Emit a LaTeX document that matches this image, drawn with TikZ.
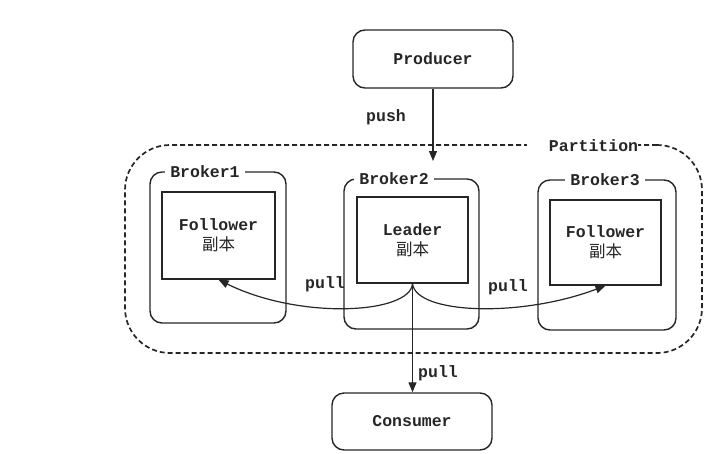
\documentclass[tikz,border=0pt]{standalone}
\usepackage{fontspec}
\setmonofont{Liberation Mono}
\newfontfamily\cjk{Noto Sans CJK SC}
\usetikzlibrary{arrows.meta}
\begin{document}
\begin{tikzpicture}[x=1pt,y=-1pt,
  every node/.style={font=\fontsize{16.5}{20}\selectfont\ttfamily\bfseries, text=black!85},
  rbox/.style={draw=black!85, line width=1.4pt, rounded corners=12pt, inner sep=0pt},
  sqbox/.style={draw=black!85, line width=1.4pt, inner sep=0pt, align=center},
  tag/.style={fill=white, inner xsep=5pt, inner ysep=1pt},
  lbl/.style={inner sep=1pt},
  arr/.style={draw=black!85, line width=1.2pt, -{Triangle[length=10pt,width=8pt]}}]
\useasboundingbox (0,0) rectangle (727,453);
% Producer / Consumer
\node[rbox, minimum width=160pt, minimum height=58pt] (prod) at (433,59) {Producer};
\node[rbox, minimum width=160pt, minimum height=57pt] (cons) at (412,421.5) {Consumer};
% Partition
\node[draw=black!85, line width=1.7pt, dash pattern=on 5pt off 3pt, rounded corners=45pt,
      minimum width=577pt, minimum height=208pt, inner sep=0pt] (part) at (413.5,249) {};
\node[tag, inner xsep=0pt] (ptag) at (582.5,146) {\hspace{22pt}Partition\hspace{12pt}};
% Brokers
\node[rbox, minimum width=136pt, minimum height=151pt] (b1) at (218,247.5) {};
\node[rbox, minimum width=135pt, minimum height=150pt] (b2) at (411.5,254) {};
\node[rbox, minimum width=138pt, minimum height=150pt] (b3) at (607,255) {};
\node[tag] (b1t) at (205,172) {Broker1};
\node[tag] (b2t) at (394,179) {Broker2};
\node[tag] (b3t) at (605,180) {Broker3};
% Replicas
\node[sqbox, minimum width=113pt, minimum height=87pt] (f1) at (218.5,235.5) {Follower\\{\cjk\mdseries 副本}};
\node[sqbox, minimum width=111pt, minimum height=86pt] (ld) at (412.5,240) {Leader\\{\cjk\mdseries 副本}};
\node[sqbox, minimum width=111pt, minimum height=85pt] (f3) at (605.5,242.5) {Follower\\{\cjk\mdseries 副本}};
% Connectors
\coordinate (pushend) at (433,161);
\draw[arr] (prod.south) -- (pushend);
\node[lbl] (push) at (386,117) {push};
\draw[arr] (ld.south) .. controls (410,314) and (300,320) .. (f1.south);
\draw[arr] (ld.south) .. controls (416,314) and (520,318) .. (f3.south);
\draw[arr] (ld.south) -- (cons.north -| ld.south);
\node[lbl] (pl1) at (325,284) {pull};
\node[lbl] (pl2) at (508,287) {pull};
\node[lbl] (pl3) at (438,373) {pull};
\end{tikzpicture}
\end{document}
